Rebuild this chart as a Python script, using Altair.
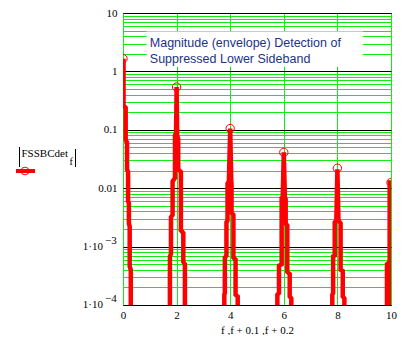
import altair as alt
import pandas as pd

# ---- data ----
s0_f = [0.02, 0.02, 0.1, 0.1, 0.15, 0.15, 0.19, 0.19, 0.22, 0.22, 0.25, 0.25, 0.29, 0.29]
s0_m = [1.65, 0.26, 0.24, 0.068, 0.06, 0.021, 0.019, 0.006, 0.0055, 0.0025, 0.0022, 0.00046, 0.0004, 0.00005]

s2_f = [1.75, 1.75, 1.79, 1.79, 1.85, 1.85, 1.94, 1.94, 1.98, 2.0, 2.02, 2.02, 2.06, 2.06, 2.16, 2.16, 2.25, 2.25, 2.31, 2.31]
s2_m = [5e-5, 6.8e-4, 7.5e-4, 3.2e-3, 3.5e-3, 0.013, 0.015, 0.08, 0.09, 0.54, 0.09, 0.08, 0.07, 0.021, 0.019, 1.9e-3, 1.7e-3, 5.5e-4, 5e-4, 5e-5]

s4_f = [3.78, 3.78, 3.8, 3.8, 3.86, 3.86, 3.9, 3.9, 3.95, 4.0, 4.04, 4.05, 4.05, 4.12, 4.12, 4.2, 4.2, 4.28, 4.28]
s4_m = [5e-5, 1.5e-4, 1.6e-4, 6.5e-4, 7e-4, 2.6e-3, 2.8e-3, 0.012, 0.013, 0.105, 0.013, 0.012, 3.8e-3, 3.5e-3, 6.5e-4, 6e-4, 1.5e-4, 1.4e-4, 5e-5]

s6_f = [5.76, 5.76, 5.82, 5.82, 5.92, 5.92, 5.96, 6.0, 6.04, 6.07, 6.07, 6.13, 6.13, 6.22, 6.22, 6.28, 6.28]
s6_m = [5e-5, 1.5e-4, 1.6e-4, 4.7e-4, 5e-4, 6.8e-3, 7e-3, 0.041, 7e-3, 6.5e-3, 2.5e-3, 2.3e-3, 3.7e-4, 3.4e-4, 1.4e-4, 1.3e-4, 5e-5]

s8_f = [7.81, 7.81, 7.84, 7.84, 7.9, 7.9, 7.96, 8.0, 8.04, 8.12, 8.12, 8.2, 8.2, 8.26, 8.26]
s8_m = [5e-5, 1.5e-4, 1.6e-4, 6.8e-4, 7e-4, 2.6e-3, 2.8e-3, 0.021, 2.8e-3, 2.5e-3, 4e-4, 3.8e-4, 1.4e-4, 1.3e-4, 5e-5]

s10_f = [9.85, 9.85, 9.95, 9.95, 10.0, 10.0]
s10_m = [5e-5, 5e-4, 5.5e-4, 0.0125, 0.0125, 5e-5]

peak_f = [0, 2, 4, 6, 8, 10]
peak_m = [1.65, 0.54, 0.105, 0.041, 0.022, 0.0125]

x_ticks = [0, 2, 4, 6, 8, 10]
decades = [1e-4, 1e-3, 1e-2, 1e-1, 1, 10]
multipliers = [1, 2, 3, 4, 5, 6, 7, 8, 9]

title_lines = ["Magnitude (envelope) Detection of", "Suppressed Lower Sideband"]
sci_labels = ["1\u00b710", "1\u00b710"]
sci_exps = ["\u22123", "\u22124"]
sci_vals = [1e-3, 1e-4]

# ---- tables ----
rows = []
for sid, (fs, ms) in enumerate([(s0_f, s0_m), (s2_f, s2_m), (s4_f, s4_m),
                                (s6_f, s6_m), (s8_f, s8_m), (s10_f, s10_m)]):
    for i, (f, m) in enumerate(zip(fs, ms)):
        rows.append({"sid": sid, "i": i, "f": f, "m": m})
spec_df = pd.DataFrame(rows)
peak_df = pd.DataFrame({"f": peak_f, "m": peak_m})

y_ticks = [d * k for d in decades[:-1] for k in multipliers] + [10]

GREEN = "#12ec12"
RED = "#ff0000"
SERIF = "Liberation Serif"

is_decade = "abs(log(datum.value)/LN10 - round(log(datum.value)/LN10)) < 0.001"

xscale = alt.Scale(domain=[0, 10], nice=False, zero=False)
yscale = alt.Scale(type="log", domain=[1e-4, 10], nice=False)

xaxis = alt.Axis(values=x_ticks, grid=True, gridColor=GREEN, ticks=False, domain=False,
                 labelFont=SERIF, labelFontSize=11, labelColor="black", labelFlush=False,
                 labelPadding=4, title="f ,f + 0.1 ,f + 0.2", titleFont=SERIF,
                 titleFontSize=11, titleFontWeight="normal", titleColor="black", titlePadding=4)
yaxis = alt.Axis(values=y_ticks, grid=True,
                 gridColor={"condition": {"test": is_decade, "value": "#000000"}, "value": GREEN},
                 ticks=False, domain=False, labelOverlap=False,
                 labelExpr="(" + is_decade + ") ? (datum.value > 5 ? '10' : datum.value > 0.5 ? '1' : datum.value > 0.05 ? '0.1' : datum.value > 0.005 ? '0.01' : '') : ''",
                 labelFont=SERIF, labelFontSize=11, labelColor="black", labelPadding=6, title=None)

X = alt.X("f:Q", scale=xscale, axis=xaxis)
Y = alt.Y("m:Q", scale=yscale, axis=yaxis)

# annotation box (white background behind the text)
box_df = pd.DataFrame({"f": [0.88], "f2": [8.95], "m": [4.8], "m2": [1.2]})
box = alt.Chart(box_df).mark_rect(color="white").encode(
    x=X, x2="f2:Q", y=Y, y2="m2:Q")

ann_df = pd.DataFrame({"f": [1.0, 1.0], "m": [3.04, 1.65], "t": title_lines})
ann = alt.Chart(ann_df).mark_text(align="left", baseline="middle", font="Liberation Sans",
                                  fontSize=12.5, color="#22337f").encode(x=X, y=Y, text="t:N")

lines = alt.Chart(spec_df).mark_line(color=RED, strokeWidth=4.5, clip=True,
                                     strokeJoin="miter").encode(
    x=X, y=Y, detail="sid:N", order="i:Q")

peaks = alt.Chart(peak_df).mark_point(shape="circle", size=70, color=RED, filled=False,
                                      strokeWidth=1, clip=True, opacity=1).encode(x=X, y=Y)

sci_df = pd.DataFrame({"m": sci_vals, "t": sci_labels, "e": sci_exps})
sci1 = alt.Chart(sci_df).mark_text(align="right", baseline="middle", font=SERIF, fontSize=11,
                                   color="black").encode(x=alt.value(-20), y=Y, text="t:N")
sci2 = alt.Chart(sci_df).mark_text(align="left", baseline="middle", font=SERIF, fontSize=11,
                                   color="black", dy=-6).encode(x=alt.value(-18), y=Y, text="e:N")

one = pd.DataFrame({"a": [0]})
leg_txt = alt.Chart(one).mark_text(align="left", baseline="middle", font=SERIF, fontSize=11,
                                   color="black").encode(x=alt.value(-101.5), y=alt.value(141),
                                                         text=alt.value("FSSBCdet"))
leg_sub = alt.Chart(one).mark_text(align="left", baseline="middle", font=SERIF, fontSize=10,
                                   color="black").encode(x=alt.value(-53.5), y=alt.value(149),
                                                         text=alt.value("f"))
bar_l = alt.Chart(one).mark_rule(color="black", strokeWidth=1).encode(
    x=alt.value(-103.5), y=alt.value(134), y2=alt.value(154))
bar_r = alt.Chart(one).mark_rule(color="black", strokeWidth=1).encode(
    x=alt.value(-47.5), y=alt.value(136), y2=alt.value(154))
leg_line = alt.Chart(one).mark_rule(color=RED, strokeWidth=4).encode(
    x=alt.value(-107), x2=alt.value(-88), y=alt.value(158))
leg_pt = alt.Chart(one).mark_point(shape="circle", size=60, color=RED, filled=False,
                                   strokeWidth=1, opacity=1).encode(x=alt.value(-98), y=alt.value(158))

chart = alt.layer(box, ann, lines, peaks, sci1, sci2, leg_txt, leg_sub, bar_l, bar_r,
                  leg_line, leg_pt).properties(
    width=268, height=292,
    autosize=alt.AutoSizeParams(type="none"),
    padding={"left": 115, "top": 5, "right": 13, "bottom": 30},
    background="white",
).configure_view(stroke="black", strokeWidth=1)

chart.save("out.html", embed_options={"renderer": "svg", "actions": False})
